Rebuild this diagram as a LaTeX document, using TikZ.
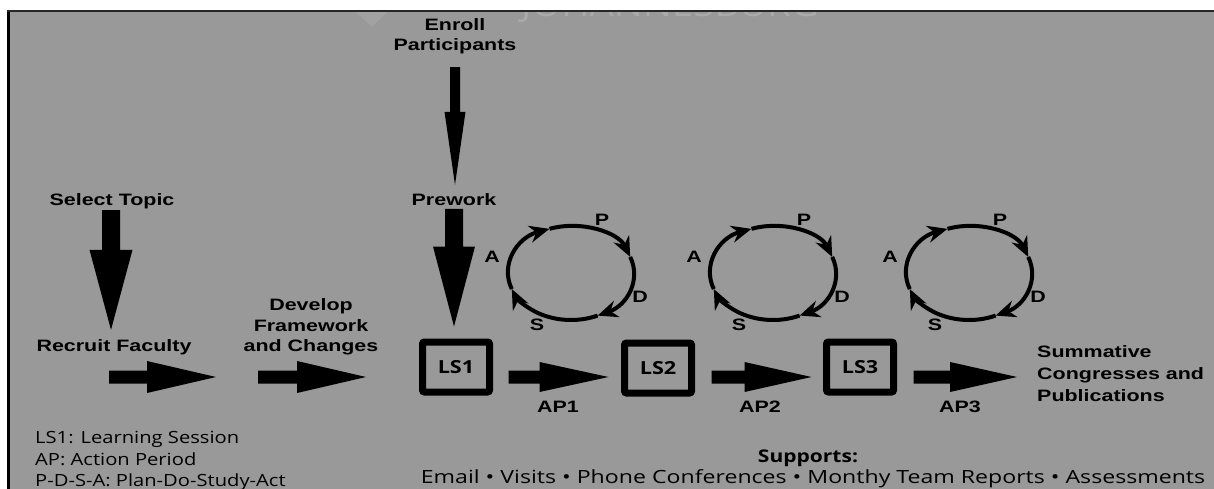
\documentclass[tikz,border=0pt]{standalone}
\usepackage{fontspec}
\usetikzlibrary{arrows.meta,calc}
\newfontfamily\hfont{Liberation Sans}[FakeStretch=1.3]
\newfontfamily\ofont{Open Sans}[FakeStretch=1.2]
\newfontfamily\wfont{Open Sans}[FakeStretch=1.27]
\definecolor{panel}{RGB}{153,153,153}
\definecolor{faint}{RGB}{170,170,170}
\definecolor{fainter}{RGB}{162,162,162}

% solid block arrow pointing down: start, tip, shaft width, head length, head width
\newcommand\downblock[5]{%
  \fill[black] let \p1=(#1), \p2=(#2) in
    (\x1-#3/2,\y1) -- (\x1+#3/2,\y1) -- (\x1+#3/2,\y2+#4) -- (\x1+#5/2,\y2+#4)
    -- (\x1,\y2) -- (\x1-#5/2,\y2+#4) -- (\x1-#3/2,\y2+#4) -- cycle;}
% solid block arrow pointing right: start, tip, shaft width, head length, head width
\newcommand\rightblock[5]{%
  \fill[black] let \p1=(#1), \p2=(#2) in
    (\x1,\y1+#3/2) -- (\x2-#4,\y1+#3/2) -- (\x2-#4,\y1+#5/2) -- (\x2,\y1)
    -- (\x2-#4,\y1-#5/2) -- (\x2-#4,\y1-#3/2) -- (\x1,\y1-#3/2) -- cycle;}

\tikzset{
  head/.style={font=\hfont\bfseries\fontsize{16.5}{20.5}\selectfont, inner sep=0pt, text=black},
  sumtext/.style={head, font=\hfont\bfseries\fontsize{16.5}{22}\selectfont},
  cyc/.style={font=\hfont\bfseries\fontsize{16.5}{20}\selectfont, inner sep=0pt, anchor=base},
  lsbox/.style={draw=black, line width=7pt, rounded corners=2pt, minimum width=67pt,
    minimum height=50pt, inner sep=0pt, font=\ofont\bfseries\fontsize{18}{20}\selectfont},
  keytext/.style={font=\ofont\fontsize{16.8}{21.5}\selectfont, inner sep=0pt, align=left},
  suptext/.style={font=\wfont\fontsize{18.2}{21}\selectfont, inner sep=0pt},
  cycarrow/.style={draw=black, line width=4pt, -{Stealth[length=20pt,width=17pt]}}
}

\begin{document}
\begin{tikzpicture}[x=1pt,y=-1pt]
\useasboundingbox (0,0) rectangle (1214,489);

% panel and frame
\fill[white] (0,0) rectangle (1214,489);
\fill[panel] (7,11) rectangle (1214,489);
\node[font=\ofont\fontsize{32}{32}\selectfont, text=faint, inner sep=0pt, anchor=base]
  (wm) at (670,17) {JOHANNESBURG};
\fill[fainter] (355,11) -- (388,11) -- (372,27) -- cycle;
\fill[white] (0,0) rectangle (1214,10.5);
\fill[black] (7,10.5) rectangle (9.5,489);
\fill[black!85] (7,10.5) rectangle (1214,12);

% preparation steps
\node[head, anchor=base] (sel) at (112,205) {Select Topic};
\node[head, anchor=base] (rec) at (114,351) {Recruit Faculty};
\node[head, align=center] (dev) at (311,327) {Develop\\Framework\\and Changes};
\node[head, align=center] (enr) at (455,36) {Enroll\\Participants};
\node[head, anchor=base] (pre) at (454,205) {Prework};

% learning sessions
\node[lsbox] (ls1) at (456,367) {LS1};
\node[lsbox] (ls2) at (658,368) {LS2};
\node[lsbox] (ls3) at (860,367) {LS3};

\node[head, anchor=base] (ap1) at (558,412) {AP1};
\node[head, anchor=base] (ap2) at (760,412) {AP2};
\node[head, anchor=base] (ap3) at (960,412) {AP3};

\node[sumtext, align=left, anchor=west] (sum) at (1037,374) {Summative\\Congresses and\\Publications};

% key and supports
\node[keytext, anchor=west] (key) at (35,461) {LS1: Learning Session\\AP: Action Period\\P-D-S-A: Plan-Do-Study-Act};
\node[font=\ofont\bfseries\fontsize{17.5}{21}\selectfont, inner sep=0pt, anchor=base] (sup) at (808,462) {Supports:};
\node[suptext, anchor=base] (mail) at (813,483) {Email • Visits • Phone Conferences • Monthy Team Reports • Assessments};

% vertical block arrows
\downblock{$(sel.south)+(-1,1.5)$}{$(rec.north)+(0,-9)$}{18pt}{80pt}{43pt}
\downblock{$(enr.south)+(0,13)$}{$(pre.north)+(0,-8)$}{10pt}{73pt}{21pt}
\downblock{$(pre.south)+(0,3.5)$}{$(ls1.north)+(0,-12)$}{18pt}{80pt}{42pt}

% horizontal block arrows
\coordinate (h1a) at (109,377);
\coordinate (h1b) at (216,377);
\coordinate (h2a) at (258,377);
\coordinate (h2b) at (366,377);
\rightblock{h1a}{h1b}{13pt}{69pt}{32pt}
\rightblock{h2a}{h2b}{13pt}{69pt}{32pt}
\rightblock{$(ls1.east)+(15.5,10)$}{$(ls2.west)+(-12.5,9)$}{13pt}{69pt}{30pt}
\rightblock{$(ls2.east)+(16.5,9)$}{$(ls3.west)+(-11.5,10)$}{13pt}{67pt}{30pt}
\rightblock{$(ls3.east)+(16.5,10)$}{$(sum.west)+(-20,3)$}{13pt}{67pt}{30pt}

% Plan-Do-Study-Act cycles
\foreach \cx/\i in {571/1,773/2,969/3} {
  \coordinate (c\i) at (\cx,273);
  \foreach \a/\b in {200/110,110/20,20/-65,-65/-160}
    \draw[cycarrow] (c\i) ++(\a:63pt and 47pt)
      arc[start angle=\a, end angle=\b, x radius=63pt, y radius=47pt];
  \node[cyc] (p\i) at ($(c\i)+(31,-48)$) {P};
  \node[cyc] (a\i) at ($(c\i)+(-79,-11)$) {A};
  \node[cyc] (d\i) at ($(c\i)+(69,29)$) {D};
  \node[cyc] (s\i) at ($(c\i)+(-34,57)$) {S};
}
\end{tikzpicture}
\end{document}
